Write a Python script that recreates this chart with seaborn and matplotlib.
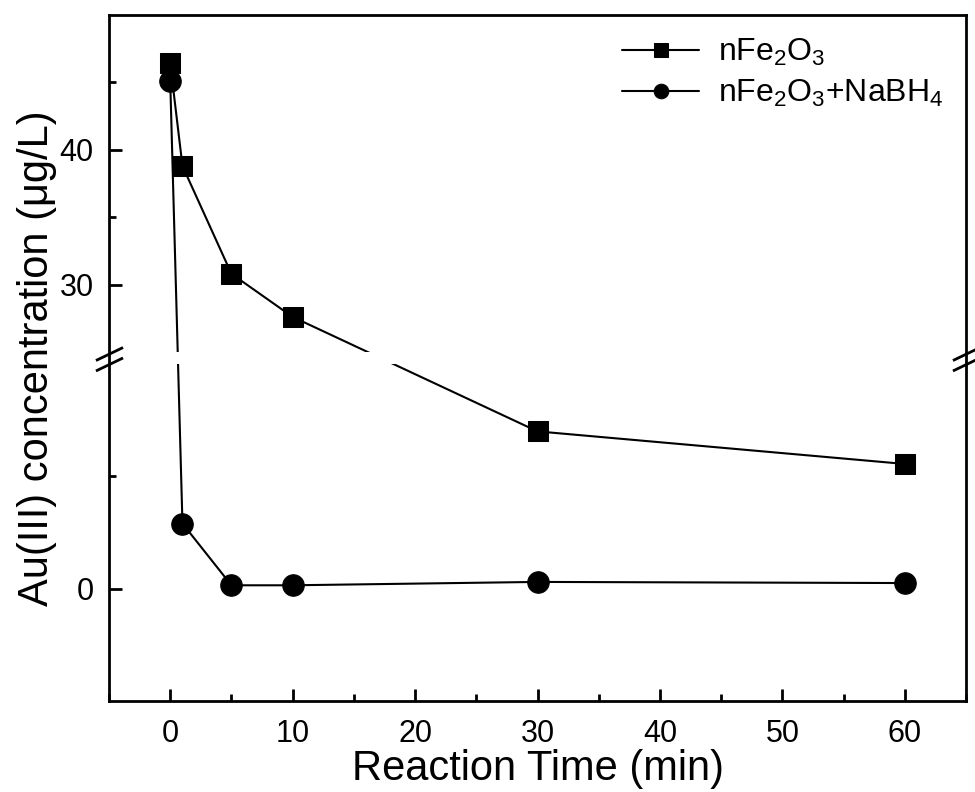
import numpy as np
import pandas as pd
import matplotlib
matplotlib.use("Agg")
import matplotlib.pyplot as plt
from matplotlib.path import Path
from matplotlib.transforms import blended_transform_factory
import seaborn as sns

# data
time_min = [0, 1, 5, 10, 30, 60]
fe2o3 = [46.4, 38.8, 30.8, 27.6, 14.0, 11.1]
fe2o3_nabh4 = [45.1, 5.8, 0.3, 0.3, 0.6, 0.5]
labels = [r"nFe$_2$O$_3$", r"nFe$_2$O$_3$+NaBH$_4$"]

# broken y axis: -10..20 below, 25..50 above
lo_min, lo_max, hi_min, hi_max = -10, 20, 25, 50
k_lo, k_gap, k_hi = 337 / 30, 12 / 5, 337 / 25


def fwd(y):
    y = np.asarray(y, dtype=float)
    a = (y - lo_min) * k_lo
    b = (lo_max - lo_min) * k_lo + (y - lo_max) * k_gap
    c = (lo_max - lo_min) * k_lo + (hi_min - lo_max) * k_gap + (y - hi_min) * k_hi
    return np.where(y <= lo_max, a, np.where(y < hi_min, b, c))


def inv(v):
    v = np.asarray(v, dtype=float)
    v1 = (lo_max - lo_min) * k_lo
    v2 = v1 + (hi_min - lo_max) * k_gap
    a = v / k_lo + lo_min
    b = (v - v1) / k_gap + lo_max
    c = (v - v2) / k_hi + hi_min
    return np.where(v <= v1, a, np.where(v < v2, b, c))


df = pd.DataFrame({"t": time_min * 2,
                   "c": fe2o3 + fe2o3_nabh4,
                   "s": [labels[0]] * 6 + [labels[1]] * 6})

sns.set_style("ticks")
plt.rcParams["font.family"] = ["Liberation Sans", "DejaVu Sans"]
plt.rcParams["mathtext.default"] = "regular"
plt.rcParams["text.color"] = "black"
plt.rcParams["axes.labelcolor"] = "black"
plt.rcParams["xtick.color"] = "black"
plt.rcParams["ytick.color"] = "black"

fig = plt.figure(figsize=(9.75, 7.92), dpi=100)
ax = fig.add_axes([0.1118, 0.1149, 0.879, 0.8662])
ax.set_yscale("function", functions=(fwd, inv))

sns.lineplot(data=df, x="t", y="c", hue="s", style="s",
             markers=["s", "o"], dashes=False,
             palette=["black", "black"], linewidth=1.5,
             markersize=14, markeredgecolor="black", ax=ax)
for ln, ms in zip(ax.lines, [14, 15.5]):
    ln.set_markersize(ms)

ax.set_xlim(-5, 65)
ax.set_ylim(lo_min, hi_max)
ax.set_xticks(range(0, 61, 10))
ax.set_xticks(range(-5, 66, 10), minor=True)
ax.set_yticks([0, 30, 40])
ax.set_yticks([10, 35, 45], minor=True)

# white band hides lines across the break
ax.axhspan(lo_max, hi_min, color="white", zorder=2.3, lw=0)

for side in ["top", "right", "left", "bottom"]:
    ax.spines[side].set_linewidth(2)
    ax.spines[side].set_color("black")
    ax.spines[side].set_zorder(3)

ax.tick_params(which="both", direction="in", top=False, right=False,
               width=2, color="black", labelcolor="black", labelsize=22, pad=11)
ax.tick_params(axis="x", pad=13)
ax.tick_params(which="major", length=9)
ax.tick_params(which="minor", length=5)

# break marks on both spines
brk = Path([(-1, -0.15), (1, 0.81), (-1, -0.92), (1, 0.04)],
           [Path.MOVETO, Path.LINETO, Path.MOVETO, Path.LINETO])
trans = blended_transform_factory(ax.transAxes, ax.transData)
ax.plot([0, 1], [(lo_max + hi_min) / 2] * 2, transform=trans, marker=brk,
        markersize=19.5, linestyle="none", mec="black", mew=2,
        clip_on=False, zorder=4)

ax.set_xlabel("Reaction Time (min)", fontsize=30, labelpad=0)
ax.set_ylabel("Au(III) concentration (\u03bcg/L)", fontsize=30, labelpad=2)

handles, _ = ax.get_legend_handles_labels()
ax.legend(handles=handles, labels=labels, loc="upper right", frameon=False,
          fontsize=23, markerscale=0.75, handlelength=2.4, handletextpad=0.6,
          labelspacing=0.3, borderaxespad=0.3)

fig.savefig("out.png", dpi=100)
